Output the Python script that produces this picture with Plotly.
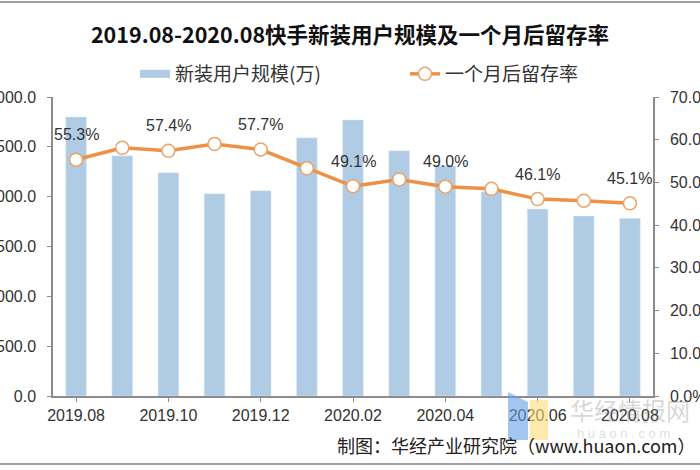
import plotly.graph_objects as go

months = ["2019.08", "2019.09", "2019.10", "2019.11", "2019.12", "2020.01", "2020.02",
          "2020.03", "2020.04", "2020.05", "2020.06", "2020.07", "2020.08"]
new_users = [2800, 2410, 2240, 2030, 2060, 2590, 2770, 2460, 2310, 2050, 1876, 1806, 1783]
retention = [55.3, 58.1, 57.4, 59.0, 57.7, 53.3, 49.1, 50.7, 49.0, 48.5, 46.1, 45.7, 45.1]
label_idx = [0, 2, 4, 6, 8, 10, 12]
tick_labels = ["2019.08", "2019.10", "2019.12", "2020.02", "2020.04", "2020.06", "2020.08"]

bar_color = "#AFCCE4"
line_color = "#EE9145"
txt = "#333333"
axis_col = "#8C8C8C"

W, H = 700, 470
L, R, T, B = 53, 47, 97, 74
pw, ph = W - L - R, H - T - B

def px_x(p):
    return (p - L) / pw

def px_y(p):
    return (H - B - p) / ph

fig = go.Figure()
fig.add_trace(go.Bar(x=months, y=new_users, marker_color=bar_color, width=0.45,
                     name="新装用户规模(万)", showlegend=False))
# legend proxy for bars (long flat swatch)
fig.add_trace(go.Scatter(x=[months[0]], y=[None], mode="lines", name="新装用户规模(万)",
                         line=dict(color=bar_color, width=8)))
fig.add_trace(go.Scatter(x=months, y=retention, yaxis="y2", mode="lines+markers",
                         name="一个月后留存率",
                         line=dict(color=line_color, width=3.5),
                         marker=dict(symbol="circle", size=13, color="white",
                                     line=dict(color="#E9A468", width=1.5))))

annotations = []
for i in label_idx:
    annotations.append(dict(x=i, y=retention[i], xref="x", yref="y2",
                            text=f"{retention[i]:.1f}%", showarrow=False,
                            yshift=25, font=dict(size=16, color=txt,
                                                 family="Liberation Sans, Arial")))
annotations.append(dict(x=px_x(697), y=px_y(445), xref="paper", yref="paper",
                        xanchor="right", yanchor="middle", showarrow=False,
                        text="制图：华经产业研究院（www.huaon.com）",
                        font=dict(size=18, color="#222222", family="Noto Sans CJK SC")))
# watermark
annotations.append(dict(x=px_x(568), y=px_y(409), xref="paper", yref="paper",
                        xanchor="left", yanchor="middle",
                        showarrow=False, text="华经情报网",
                        font=dict(size=24, color="rgba(140,140,140,0.35)",
                                  family="Noto Sans CJK SC")))
annotations.append(dict(x=px_x(575), y=px_y(433), xref="paper", yref="paper",
                        xanchor="left", yanchor="middle",
                        showarrow=False, text="h u a o n . c o m",
                        font=dict(size=13, color="rgba(170,170,170,0.4)",
                                  family="Liberation Sans, Arial")))

shapes = [
    dict(type="line", xref="paper", yref="paper", x0=px_x(0), x1=px_x(700),
         y0=px_y(2), y1=px_y(2), line=dict(color="#A0A0A0", width=2)),
    dict(type="line", xref="paper", yref="paper", x0=px_x(0), x1=px_x(700),
         y0=px_y(464), y1=px_y(464), line=dict(color="#A0A0A0", width=2)),
    dict(type="path", xref="paper", yref="paper",
         path=f"M {px_x(508)} {px_y(392)} L {px_x(528)} {px_y(402)} L {px_x(528)} {px_y(440)} L {px_x(508)} {px_y(440)} Z",
         fillcolor="rgba(100,160,230,0.6)", line=dict(width=0)),
    dict(type="path", xref="paper", yref="paper",
         path=f"M {px_x(530)} {px_y(400)} L {px_x(548)} {px_y(400)} L {px_x(548)} {px_y(440)} L {px_x(530)} {px_y(440)} Z",
         fillcolor="rgba(250,220,120,0.6)", line=dict(width=0)),
]

fig.update_layout(
    width=W, height=H,
    margin=dict(l=L, r=R, t=T, b=B, autoexpand=False),
    paper_bgcolor="white", plot_bgcolor="white",
    title=dict(text="<b>2019.08-2020.08快手新装用户规模及一个月后留存率</b>",
               x=0.5, xanchor="center", xref="container",
               y=1 - 35 / H, yanchor="middle",
               font=dict(size=21.5, color="#111111", family="Noto Sans CJK SC")),
    legend=dict(orientation="h", x=px_x(135), xanchor="left",
                y=px_y(74), yanchor="middle",
                font=dict(size=19, color="#333333", family="Noto Sans CJK SC"),
                entrywidth=225, entrywidthmode="pixels",
                bgcolor="rgba(0,0,0,0)", traceorder="normal"),
    bargap=0.55,
    xaxis=dict(type="category", tickmode="array", tickvals=tick_labels,
               ticktext=tick_labels, showline=True, linecolor=axis_col, linewidth=1.5,
               ticks="outside", ticklen=4, tickcolor=axis_col, automargin=False,
               range=[-0.5, len(months) - 0.5],
               tickfont=dict(size=16, color=txt, family="Liberation Sans, Arial"),
               showgrid=False, zeroline=False, fixedrange=True),
    yaxis=dict(range=[0, 3000], dtick=500, tickformat=".1f", showline=True,
               linecolor=axis_col, linewidth=1.5, ticks="outside", ticklen=4,
               tickcolor=axis_col, ticklabelstandoff=8, automargin=False,
               tickfont=dict(size=16, color=txt, family="Liberation Sans, Arial"),
               showgrid=False, zeroline=False),
    yaxis2=dict(range=[0, 70], dtick=10, tickformat=".1f", ticksuffix="%",
                overlaying="y", side="right", showline=True, linecolor=axis_col,
                linewidth=1.5, ticks="outside", ticklen=4, tickcolor=axis_col,
                ticklabelstandoff=8, automargin=False,
                tickfont=dict(size=16, color=txt, family="Liberation Sans, Arial"),
                showgrid=False, zeroline=False),
    annotations=annotations,
    shapes=shapes,
)

fig.write_html("out.html")
